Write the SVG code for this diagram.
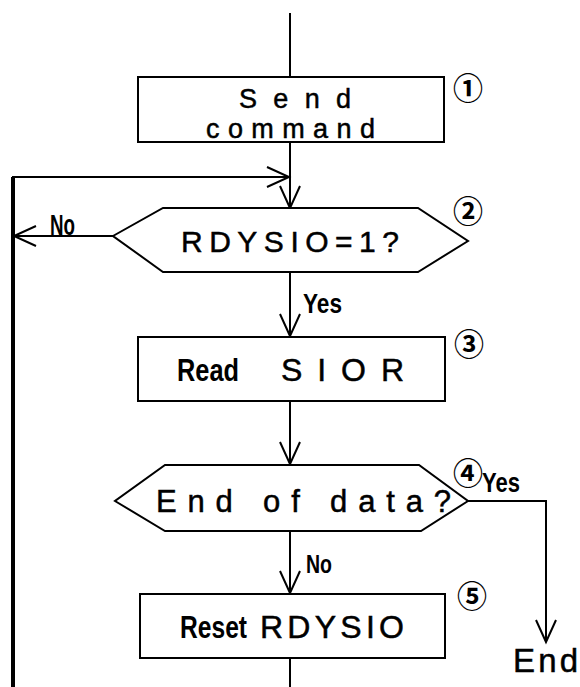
<svg xmlns="http://www.w3.org/2000/svg" width="580" height="687" viewBox="0 0 580 687">
<defs>
<marker id="arr" markerUnits="userSpaceOnUse" markerWidth="30" markerHeight="30" viewBox="-25 -15 30 30" refX="0" refY="0" orient="auto">
<path d="M-22,-10 L0,0 L-22,10" fill="none" stroke="#000" stroke-width="2"/>
</marker>
</defs>
<style>
.s{fill:#fff;stroke:#000;stroke-width:2}
.c{fill:none;stroke:#000;stroke-width:2}
.t{font-family:"Liberation Sans","DejaVu Sans",sans-serif;fill:#000;stroke:#000;stroke-width:0.5}
.b{font-family:"Liberation Sans","DejaVu Sans",sans-serif;font-weight:bold;fill:#000}
.n{font-family:"Noto Sans CJK JP","DejaVu Sans",sans-serif;font-size:30px;font-weight:bold;fill:#000;text-anchor:middle;dominant-baseline:central}
</style>
<rect width="580" height="687" fill="#fff"/>
<g id="connectors">
<line class="c" x1="290" y1="13" x2="290" y2="77"/>
<line class="c" x1="290" y1="142" x2="290" y2="208" marker-end="url(#arr)"/>
<polyline class="c" points="13,687 13,177 289,177" marker-end="url(#arr)"/>
<line x1="13" y1="177" x2="13" y2="687" stroke="#000" stroke-width="4"/>
<line class="c" x1="113" y1="236" x2="14" y2="236" marker-end="url(#arr)"/>
<line class="c" x1="290" y1="272" x2="290" y2="336" marker-end="url(#arr)"/>
<line class="c" x1="290" y1="401" x2="290" y2="464" marker-end="url(#arr)"/>
<polyline class="c" points="468,501 546,501 546,642" marker-end="url(#arr)"/>
<line class="c" x1="290" y1="531" x2="290" y2="593" marker-end="url(#arr)"/>
<line class="c" x1="290" y1="658" x2="290" y2="687"/>
</g>
<g id="n1">
<rect class="s" x="138" y="77" width="306" height="65"/>
<text class="t" x="239" y="107.5" font-size="27" textLength="112">Send</text>
<text class="t" x="206" y="138" font-size="27" textLength="169">command</text>
<text class="n" x="468" y="86">①</text>
</g>
<g id="n2">
<polygon class="s" points="163,208 418,208 468,241 418,272 163,272 113,236"/>
<text class="t" x="181" y="252" font-size="30" textLength="218">RDYSIO=1?</text>
<text class="n" x="468" y="209">②</text>
</g>
<g id="n3">
<rect class="s" x="138" y="337" width="307" height="64"/>
<text class="b" x="177" y="381" font-size="32" textLength="62" lengthAdjust="spacingAndGlyphs">Read</text>
<text class="t" x="281" y="381" font-size="32" textLength="123">SIOR</text>
<text class="n" x="469" y="342">③</text>
</g>
<g id="n4">
<polygon class="s" points="165,465 419,465 468,501 421,531 165,531 115,501"/>
<text class="t" x="156" y="512" font-size="31" textLength="295">End of data?</text>
<text class="n" x="468" y="471">④</text>
</g>
<g id="n5">
<rect class="s" x="140" y="594" width="305" height="64"/>
<text class="b" x="180" y="638" font-size="32" textLength="67" lengthAdjust="spacingAndGlyphs">Reset</text>
<text class="t" x="260" y="638" font-size="32" textLength="144">RDYSIO</text>
<text class="n" x="472" y="594">⑤</text>
</g>
<g id="end">
<text class="t" x="513" y="672" font-size="33" textLength="65">End</text>
</g>
<g id="labels">
<text class="b" x="50" y="235" font-size="30" textLength="25" lengthAdjust="spacingAndGlyphs">No</text>
<text class="b" x="303" y="313" font-size="28" textLength="39" lengthAdjust="spacingAndGlyphs">Yes</text>
<text class="b" x="482" y="492" font-size="27" textLength="38" lengthAdjust="spacingAndGlyphs">Yes</text>
<text class="b" x="306" y="573" font-size="26" textLength="26" lengthAdjust="spacingAndGlyphs">No</text>
</g>
</svg>
